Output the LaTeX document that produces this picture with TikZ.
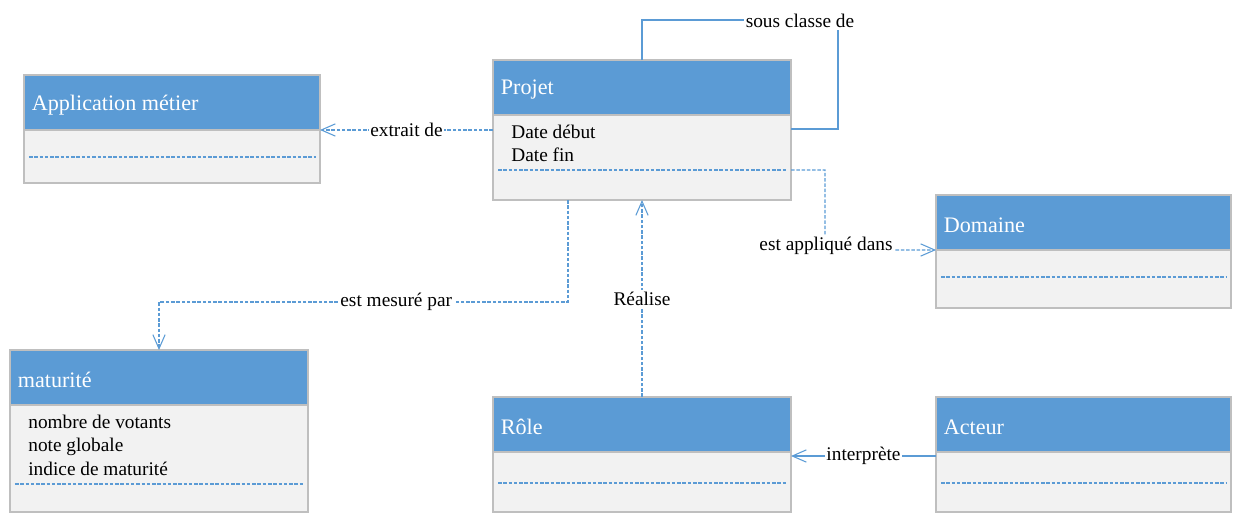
\documentclass[tikz,border=0pt]{standalone}
\usepackage{fontspec}
\setmainfont{Liberation Serif}
\usepackage{tikz}
\usetikzlibrary{arrows.meta,positioning}
\definecolor{umlblue}{HTML}{5B9BD5}
\definecolor{umlfill}{HTML}{F2F2F2}
\definecolor{umlline}{HTML}{BFBFBF}

\newcommand{\umlclass}[8]{%
  \node[classhead, minimum width=#4*0.02cm, anchor=north west] (#1) at (#2,#3) {};
  \node[classtitle, right=0.15cm of #1.west, yshift=-0.05cm] (#1-t) {#7};
  \node[classbody, minimum width=#4*0.02cm, minimum height=#5*0.02cm, below=0pt of #1] (#1-b) {};
  \node[classattr, below right=0.19cm and 0.36cm of #1-b.north west] (#1-a) {#8};
  \draw[classdash] ([xshift=0.1cm,yshift=-#6*0.02cm]#1-b.north west) -- ([xshift=-0.08cm,yshift=-#6*0.02cm]#1-b.north east);
}

\begin{document}
\begin{tikzpicture}[x=0.02cm,y=-0.02cm,>={Straight Barb[length=8pt,width=7pt]},
   classhead/.style={rectangle,draw=umlline,fill=umlblue,minimum height=1.1cm,outer sep=0pt,line width=0.6pt},
   classtitle/.style={text=white,inner sep=0pt,font=\fontsize{12.6}{15}\selectfont},
   classbody/.style={rectangle,draw=umlline,fill=umlfill,outer sep=0pt,line width=0.6pt},
   classattr/.style={inner sep=0pt,align=left,font=\fontsize{11}{13.5}\selectfont},
   classdash/.style={umlblue,line width=0.6pt,dash pattern=on 2pt off 1pt},
   link/.style={umlblue,line width=0.6pt},
   assoc/.style={link,->},
   depend/.style={assoc,dash pattern=on 2pt off 1pt},
   lbl/.style={fill=white,text=black,inner sep=1pt,font=\fontsize{11}{13}\selectfont}]
   \useasboundingbox (0,0) rectangle (1233,514);
   \umlclass{app}{24}{75}{296}{53}{27}{Application métier}{}
   \umlclass{projet}{493}{60}{298}{85}{55}{Projet}{Date début\\Date fin}
   \umlclass{domaine}{936}{195}{295}{58}{27}{Domaine}{}
   \umlclass{maturite}{10}{350}{298}{107}{79}{maturité}{nombre de votants\\note globale\\indice de maturité}
   \umlclass{role}{493}{397}{298}{60}{31}{Rôle}{}
   \umlclass{acteur}{936}{397}{295}{60}{31}{Acteur}{}

   \coordinate (sc) at (838,20);
   \draw[link] (projet.north) |- (sc) |- (projet-b.east |- 0,129);
   \node[lbl] (sousclasse) at (800,21) {sous classe de};

   \draw[depend] (projet-b.west |- app.south east) -- node[lbl] {extrait de} (app.south east);

   \coordinate (m1) at (568,302);
   \draw[depend] (projet-b.south -| m1) -- (m1) -- node[lbl,pos=0.42] {est mesuré par} (maturite.north |- m1) -- (maturite.north);

   \draw[depend] (role.north) -- node[lbl] {Réalise} (projet-b.south);

   \coordinate (a1) at (825,250);
   \draw[depend] (projet-b.east |- 0,170) -| (a1) -- (domaine.south west);
   \node[lbl] (applique) at (826,246) {est appliqué dans};

   \draw[assoc] (acteur-b.west |- 0,456) -- node[lbl] {interprète} (role-b.east |- 0,456);
\end{tikzpicture}
\end{document}
